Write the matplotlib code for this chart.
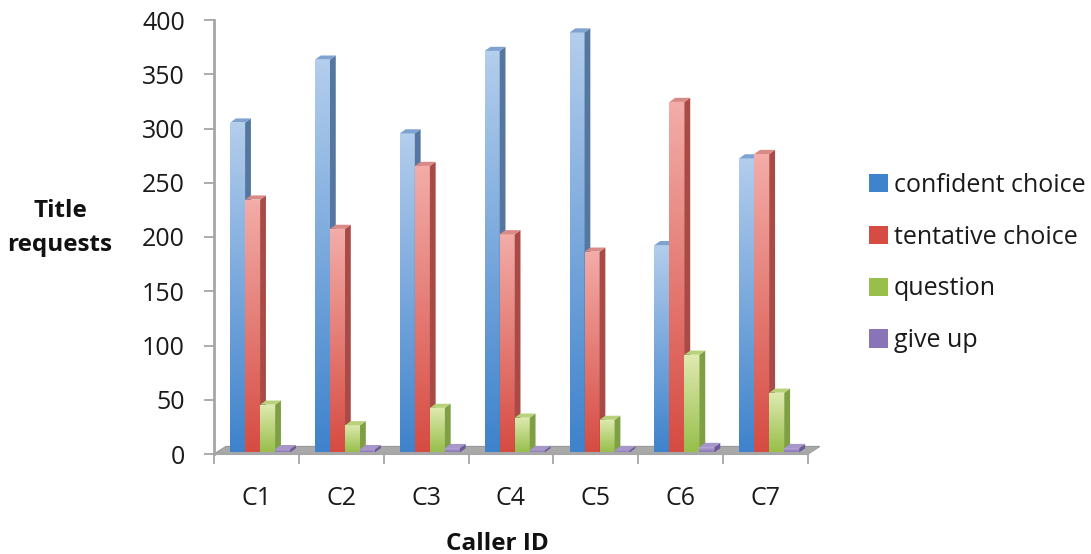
import numpy as np
import matplotlib
matplotlib.use("Agg")
import matplotlib.pyplot as plt
from matplotlib.colors import LinearSegmentedColormap
from matplotlib.patches import Polygon

# Title requests per caller, split by request type
callers = ["C1", "C2", "C3", "C4", "C5", "C6", "C7"]
series_names = ["confident choice", "tentative choice", "question", "give up"]
confident = [304, 362, 294, 370, 387, 191, 271]
tentative = [233, 206, 264, 201, 185, 323, 275]
question = [44, 25, 41, 32, 30, 90, 55]
give_up = [3, 3, 4, 2, 2, 5, 4]
y_ticks = [0, 50, 100, 150, 200, 250, 300, 350, 400]

series = [confident, tentative, question, give_up]
# (front top colour, front bottom colour, side colour, top colour)
palette = [
    ("#b3cdec", "#3f83cc", "#55779f", "#7fa3d0"),
    ("#f3aca8", "#d64c43", "#a84b46", "#d98a86"),
    ("#dfeab0", "#98bf4c", "#7e9f43", "#b8d27a"),
    ("#c2b3dc", "#8a74b8", "#6d5a98", "#a696c9"),
]

plt.rcParams["font.family"] = ["Open Sans", "DejaVu Sans"]

W, H, DPI = 1091, 554, 100
fig = plt.figure(figsize=(W / DPI, H / DPI), dpi=DPI)
ax = fig.add_axes([214 / W, 100 / H, 594 / W, 434 / H])
ax.set_xlim(-0.5, 6.5)
ax.set_ylim(0, 400)

bar_w = 0.177
start = 0.19
dx, dy = 0.068, 3.8  # depth offset for side and top faces

# floor slab
floor = Polygon([(-0.5, 0), (6.5, 0), (6.5 + 0.14, 7), (-0.5 + 0.14, 7)],
                closed=True, facecolor="#a9a9a9", edgecolor="#9a9a9a",
                lw=0.8, zorder=1, clip_on=False)
ax.add_patch(floor)

x = np.arange(len(callers))
for j, (vals, name) in enumerate(zip(series, series_names)):
    top_c, bot_c, side_c, lid_c = palette[j]
    cmap = LinearSegmentedColormap.from_list(name, [bot_c, top_c])
    lefts = x - 0.5 + start + j * bar_w
    bars = ax.bar(lefts, vals, width=bar_w, align="edge", color=bot_c,
                  edgecolor="none", zorder=3 + j, label=name, bottom=1.5)
    for rect, v in zip(bars, vals):
        x0 = rect.get_x()
        x1 = x0 + rect.get_width()
        b = rect.get_y()
        t = b + rect.get_height()
        grad = np.linspace(0, 1, 64).reshape(-1, 1)
        im = ax.imshow(grad, cmap=cmap, origin="lower", aspect="auto",
                       extent=(x0, x1, b, t), zorder=3 + j + 0.1,
                       interpolation="bilinear")
        im.set_clip_path(rect)
        side = Polygon([(x1, b), (x1 + dx, b + dy), (x1 + dx, t + dy), (x1, t)],
                       closed=True, facecolor=side_c, edgecolor="none",
                       zorder=3 + j + 0.2)
        lid = Polygon([(x0, t), (x1, t), (x1 + dx, t + dy), (x0 + dx, t + dy)],
                      closed=True, facecolor=lid_c, edgecolor="none",
                      zorder=3 + j + 0.2)
        ax.add_patch(side)
        ax.add_patch(lid)

ax.set_xlim(-0.5, 6.5)
ax.set_ylim(0, 400)

# axes styling
for s in ["top", "right"]:
    ax.spines[s].set_visible(False)
ax.spines["left"].set_color("#a6a6a6")
ax.spines["left"].set_linewidth(2)
ax.spines["bottom"].set_color("#a6a6a6")
ax.spines["bottom"].set_linewidth(1.5)

TXT = "#1a1a1a"
ax.set_yticks(y_ticks)
ax.set_yticklabels([str(t) for t in y_ticks], fontsize=18, color=TXT)
ax.tick_params(axis="y", length=7, width=1.3, color="#a6a6a6", pad=14)

ax.set_xticks(np.arange(-0.5, 7.0, 1.0))
ax.set_xticklabels([])
ax.tick_params(axis="x", which="major", length=7, width=1.3, color="#a6a6a6")
ax.set_xticks(x, minor=True)
ax.set_xticklabels(callers, minor=True, fontsize=18, color=TXT)
ax.tick_params(axis="x", which="minor", length=0, pad=23)

fig.text(60 / W, 1 - 211 / H, "Title", ha="center", va="center",
         fontsize=17.5, fontweight="bold", color="#111111")
fig.text(60 / W, 1 - 245 / H, "requests", ha="center", va="center",
         fontsize=17.5, fontweight="bold", color="#111111")
fig.text(497 / W, 1 - 544 / H, "Caller ID", ha="center", va="center",
         fontsize=17.5, fontweight="bold", color="#111111")

# legend with plain colour squares
handles = [plt.Rectangle((0, 0), 1, 1, facecolor=p[1], edgecolor="none")
           for p in palette]
leg = fig.legend(handles, series_names, loc="center left",
                 bbox_to_anchor=(869 / W, 1 - 263 / H), frameon=False,
                 fontsize=18, handlelength=0.75, handleheight=0.75,
                 handletextpad=0.25, labelspacing=1.07, borderaxespad=0,
                 borderpad=0)
for t in leg.get_texts():
    t.set_color(TXT)

fig.savefig("out.png", dpi=DPI)
